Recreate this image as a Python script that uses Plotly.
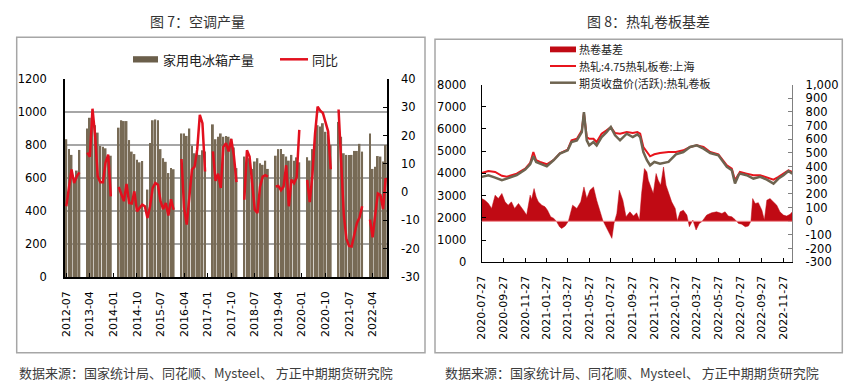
import plotly.graph_objects as go
import pandas as pd

W, H = 859, 392

# ---------------- Left chart data (monthly) ----------------
months = [p.strftime("%Y-%m") for p in pd.period_range("2012-07", "2022-09", freq="M")]

fridge_2012 = [835, 775, 740, 590, 645, 770]
fridge_2013 = [None, None, 900, 965, 940, 920, 875, 795, 790, 780, 735, 735]
fridge_2014 = [None, None, 905, 950, 945, 945, 830, 760, 745, 710, 695, 703]
fridge_2015 = [None, 530, 812, 950, 955, 950, 775, 720, 698, 630, 660, 653]
fridge_2016 = [None, None, 870, 870, 855, 900, 795, 750, 755, 740, 768, 760]
fridge_2017 = [None, None, 925, 835, 850, 870, 850, 855, 850, 838, 785, 660]
fridge_2018 = [None, None, 730, 770, 720, 655, 700, 720, 690, 680, 705, 655]
fridge_2019 = [None, None, 735, 775, 775, 745, 730, 705, 740, 705, 725, 695]
fridge_2020 = [None, None, 726, 706, 775, 850, 920, 912, 932, 880, 860, 800]
fridge_2021 = [None, None, 940, 850, 750, 740, 740, 740, 764, 764, 807, 760]
fridge_2022 = [None, None, 870, 655, 668, 733, 730, 700, 800]

yoy_2012 = [-5, 1, 8, 3.2, 5.6, 7]
yoy_2013 = [None, None, 14, 12.5, 29.5, 20, 5.5, 3.5, 3.5, 10.5, 13.3, -1.5]
yoy_2014 = [None, None, 1.8, -0.9, -3.2, 2.9, -3.8, -4, 0.3, -6.8, -5.6, -4.4]
yoy_2015 = [-5, -9.1, -5, 1.5, 3.2, 2.6, -3.2, -6, -3.8, -8.3, -2.5, -6.2]
yoy_2016 = [None, None, 11.7, -5.6, -11.5, -1.5, 8, 9, 15, 27.3, 24.4, 7.3]
yoy_2017 = [None, None, 14.4, 4, 6.5, 1.5, 16, 17.3, 14.4, 18.8, 13, 3.5]
yoy_2018 = [None, None, -2.7, 14.8, 12.6, 3.8, -6.2, -7.4, 1.8, 5.5, 6, 5.5]
yoy_2019 = [None, None, 2, 2.2, 0.7, 2, 9.5, -5, 4.4, 3.2, 5.3, 22]
yoy_2020 = [None, None, 4.3, -3.5, 6, 20.5, 30.2, 28.8, 28, 25, 21.5, 8.1]
yoy_2021 = [None, None, 29.2, 9, -8, -16.5, -19, -19.2, -14.5, -11, -9, -5]
yoy_2022 = [None, None, -9.7, -16, -8, -0.5, -1, -6, 5]

fridge = (fridge_2012 + fridge_2013 + fridge_2014 + fridge_2015 + fridge_2016 + fridge_2017
          + fridge_2018 + fridge_2019 + fridge_2020 + fridge_2021 + fridge_2022)
yoy = (yoy_2012 + yoy_2013 + yoy_2014 + yoy_2015 + yoy_2016 + yoy_2017
       + yoy_2018 + yoy_2019 + yoy_2020 + yoy_2021 + yoy_2022)

left_xticks = ["2012-07", "2013-04", "2014-01", "2014-10", "2015-07", "2016-04", "2017-01",
               "2017-10", "2018-07", "2019-04", "2020-01", "2020-10", "2021-07", "2022-04"]
left_y2_ticks = [40, 30, 20, 10, 0, -10, -20, -30]

# ---------------- Right chart data ----------------
line_dates = ["2020-07-27", "2020-08-15", "2020-09-03", "2020-09-22", "2020-10-06", "2020-11-03",
              "2020-11-27", "2020-12-11", "2020-12-20", "2020-12-28", "2021-01-08", "2021-01-27",
              "2021-02-15", "2021-03-05", "2021-03-27", "2021-04-07", "2021-04-22", "2021-05-06",
              "2021-05-12", "2021-05-20", "2021-05-27", "2021-06-08", "2021-06-17", "2021-07-01",
              "2021-07-15", "2021-07-27", "2021-08-08", "2021-08-22", "2021-09-10", "2021-09-27",
              "2021-10-10", "2021-10-18", "2021-10-27", "2021-11-06", "2021-11-15", "2021-11-27",
              "2021-12-13", "2022-01-06", "2022-01-27", "2022-02-17", "2022-03-08", "2022-03-27",
              "2022-04-15", "2022-05-04", "2022-05-27", "2022-06-20", "2022-07-04", "2022-07-13",
              "2022-07-23", "2022-07-27", "2022-08-15", "2022-09-03", "2022-09-22", "2022-10-11",
              "2022-10-30", "2022-11-13", "2022-11-27", "2022-12-11", "2022-12-22"]

spot = [4020, 4110, 4066, 3890, 3850, 3990, 4215, 4470, 4963, 4590, 4515, 4410,
        4600, 4900, 5068, 5487, 5560, 5935, 6712, 5636, 5560, 5560, 5412, 5786,
        5935, 6085, 5816, 5786, 5860, 5816, 5860, 5786, 5188, 4963, 4770, 4860,
        4918, 4963, 4963, 5038, 5188, 5262, 5188, 4963, 4860, 4365, 4215, 3692,
        3990, 4066, 3990, 3917, 3917, 3812, 3722, 3842, 3990, 4140, 4066]

futures = [3842, 3917, 3812, 3692, 3767, 3917, 4170, 4410, 4770, 4515, 4440, 4320,
           4590, 4888, 5038, 5412, 5487, 5860, 6757, 5487, 5262, 5412, 5262, 5636,
           5860, 6085, 5711, 5487, 5786, 5636, 5756, 5636, 4963, 4590, 4365, 4515,
           4440, 4515, 4860, 4963, 5188, 5262, 5113, 4918, 4815, 4290, 4140, 3543,
           3917, 3990, 3917, 3767, 3842, 3722, 3543, 3767, 3917, 4110, 3990]

basis_dates = ["2020-07-27", "2020-08-05", "2020-08-15", "2020-08-24", "2020-09-03", "2020-09-12",
               "2020-09-22", "2020-10-01", "2020-10-10", "2020-10-19", "2020-10-28", "2020-11-08",
               "2020-11-22", "2020-12-01", "2020-12-11", "2020-12-15", "2020-12-22", "2020-12-28",
               "2021-01-03", "2021-01-13", "2021-01-22", "2021-01-29", "2021-02-07", "2021-02-16",
               "2021-02-24", "2021-03-04", "2021-03-10", "2021-03-20", "2021-03-29", "2021-04-10",
               "2021-04-22", "2021-05-03", "2021-05-12", "2021-05-20", "2021-05-29", "2021-06-08",
               "2021-06-17", "2021-06-27", "2021-07-04", "2021-07-11", "2021-07-20", "2021-07-30",
               "2021-08-05", "2021-08-13", "2021-08-20", "2021-08-30", "2021-09-08", "2021-09-19",
               "2021-09-29", "2021-10-08", "2021-10-16", "2021-10-22", "2021-10-30", "2021-11-06",
               "2021-11-10", "2021-11-17", "2021-11-24", "2021-12-02", "2021-12-08", "2021-12-15",
               "2021-12-23", "2021-12-30", "2022-01-06", "2022-01-15", "2022-01-25", "2022-01-31",
               "2022-02-08", "2022-02-17", "2022-02-27", "2022-03-06", "2022-03-16", "2022-03-25",
               "2022-04-03", "2022-04-10", "2022-04-17", "2022-04-24", "2022-05-08", "2022-05-22",
               "2022-06-06", "2022-06-15", "2022-06-24", "2022-07-04", "2022-07-13", "2022-07-23",
               "2022-08-01", "2022-08-11", "2022-08-20", "2022-08-27", "2022-09-01", "2022-09-08",
               "2022-09-17", "2022-09-27", "2022-10-04", "2022-10-11", "2022-10-20", "2022-10-30",
               "2022-11-08", "2022-11-17", "2022-11-27", "2022-12-06", "2022-12-16", "2022-12-22"]

basis = [166, 154, 130, 94, 191, 166, 203, 142, 118, 142, 94, 130,
         81, 45, 191, 160, 239, 178, 142, 118, 106, 81, 33, 21,
         -4, -40, -52, -35, 0, 118, 94, 142, 251, 166, 227, 251,
         154, 57, 9, -28, -77, -125, -16, 57, 227, 154, 33, 69,
         38, 62, 9, 203, 385, 361, 300, 251, 203, 349, 300, 264,
         397, 264, 203, 142, 94, 4, 69, 81, 45, -40, 9, -64,
         -16, -4, 21, 45, 62, 69, 57, 69, 38, 33, 13, -16,
         -21, -40, -35, 0, 166, 130, 136, 81, 9, 154, 166, 142,
         118, 69, 45, 38, 52, 69]

right_xticks = ["2020-07-27", "2020-09-27", "2020-11-27", "2021-01-27", "2021-03-27", "2021-05-27",
                "2021-07-27", "2021-09-27", "2021-11-27", "2022-01-27", "2022-03-27", "2022-05-27",
                "2022-07-27", "2022-09-27", "2022-11-27"]
right_y4_ticks = list(range(-300, 1001, 100))


def px(x):
    return x / W


def py(y):
    return 1 - y / H


TICKFONT = dict(family="DejaVu Sans", size=11, color="#000000")
CJK = "Noto Sans CJK SC"

fig = go.Figure()

# Left chart traces
fig.add_trace(go.Bar(x=months, y=fridge, xaxis="x", yaxis="y",
                     marker=dict(color="#776a55", line=dict(width=0)), showlegend=False))
fig.add_trace(go.Scatter(x=months, y=yoy, xaxis="x", yaxis="y2", mode="lines",
                         line=dict(color="#e2101e", width=2.5), connectgaps=False, showlegend=False))

# Right chart traces
fig.add_trace(go.Scatter(x=basis_dates, y=basis, xaxis="x2", yaxis="y4", mode="lines",
                         fill="tozeroy", fillcolor="#c00a14", line=dict(color="#c00a14", width=0.5),
                         showlegend=False))
fig.add_trace(go.Scatter(x=line_dates, y=spot, xaxis="x2", yaxis="y3", mode="lines",
                         line=dict(color="#e8141c", width=2), showlegend=False))
fig.add_trace(go.Scatter(x=line_dates, y=futures, xaxis="x2", yaxis="y3", mode="lines",
                         line=dict(color="#6e6450", width=2.5), showlegend=False))

fig.update_layout(
    template="none",
    width=W, height=H, autosize=False,
    margin=dict(l=0, r=0, t=0, b=0, pad=0),
    paper_bgcolor="white", plot_bgcolor="white",
    bargap=0.3,
    hovermode=False,
    xaxis=dict(domain=[px(65), px(387)], anchor="y", type="category", range=[-0.5, 122.5],
               tickmode="array", tickvals=left_xticks, ticktext=left_xticks, tickangle=-90,
               ticks="inside", ticklen=4, tickcolor="black", showline=True, linecolor="black",
               linewidth=1.5, showgrid=False, tickfont=TICKFONT, ticklabelstandoff=8, automargin=False),
    yaxis=dict(domain=[py(277), py(79)], anchor="x", range=[0, 1200], dtick=200,
               showgrid=True, gridcolor="#a6a6a6", gridwidth=1.5, zeroline=False,
               showline=True, linecolor="black", linewidth=1.5, ticks="",
               tickfont=dict(family="DejaVu Sans", size=11.5, color="#000000"), ticklabelstandoff=14,
               automargin=False),
    yaxis2=dict(overlaying="y", side="right", anchor="x", range=[-30, 40],
                tickmode="array", tickvals=left_y2_ticks, ticktext=[str(v) for v in left_y2_ticks],
                showgrid=False, zeroline=False, showline=True, linecolor="black", linewidth=1.5,
                ticks="inside", ticklen=4, tickcolor="black",
                tickfont=dict(family="DejaVu Sans", size=11.5, color="#000000"), ticklabelstandoff=10,
                automargin=False),
    xaxis2=dict(domain=[px(481.7), px(792.3)], anchor="y3", type="date",
                range=["2020-07-27", "2022-12-22"],
                tickmode="array", tickvals=right_xticks, ticktext=right_xticks, tickangle=-90,
                ticks="inside", ticklen=4, tickcolor="black", showline=True, linecolor="black",
                linewidth=1, showgrid=False, tickfont=TICKFONT, ticklabelstandoff=8, automargin=False),
    yaxis3=dict(domain=[py(262.3), py(84.5)], anchor="x2", range=[0, 8000], dtick=1000,
                showgrid=False, zeroline=False, showline=True, linecolor="black", linewidth=1,
                ticks="inside", ticklen=4, tickcolor="black",
                tickfont=dict(family="DejaVu Sans", size=11.5, color="#000000"), ticklabelstandoff=12,
                automargin=False),
    yaxis4=dict(overlaying="y3", side="right", anchor="x2", range=[-300, 1000],
                tickmode="array", tickvals=right_y4_ticks,
                ticktext=[f"{v:,}" for v in right_y4_ticks],
                showgrid=False, zeroline=False, showline=True, linecolor="#808080", linewidth=1,
                ticks="inside", ticklen=4, tickcolor="#808080",
                tickfont=dict(family="DejaVu Sans", size=11.5, color="#000000"), ticklabelstandoff=10,
                automargin=False),
)

shapes = [
    # panel frames
    dict(type="rect", xref="paper", yref="paper", x0=px(16.7), x1=px(425), y0=py(352.7), y1=py(37.3),
         line=dict(color="#a6a6a6", width=1.5), fillcolor="rgba(0,0,0,0)", layer="below"),
    dict(type="rect", xref="paper", yref="paper", x0=px(435), x1=px(842.3), y0=py(352.7), y1=py(39.3),
         line=dict(color="#a6a6a6", width=1.5), fillcolor="rgba(0,0,0,0)", layer="below"),
    # basis zero line
    dict(type="line", xref="x2 domain", yref="y4", x0=0, x1=1, y0=0, y1=0,
         line=dict(color="#f08a90", width=1)),
    # left legend symbols
    dict(type="rect", xref="paper", yref="paper", x0=px(133), x1=px(158), y0=py(62.5), y1=py(56.2),
         line=dict(width=0), fillcolor="#6b5f4b"),
    dict(type="line", xref="paper", yref="paper", x0=px(280), x1=px(308), y0=py(59.3), y1=py(59.3),
         line=dict(color="#e2101e", width=2.5)),
    # right legend symbols
    dict(type="rect", xref="paper", yref="paper", x0=px(550), x1=px(576), y0=py(52.3), y1=py(46.5),
         line=dict(width=0), fillcolor="#c00a14"),
    dict(type="line", xref="paper", yref="paper", x0=px(550), x1=px(576), y0=py(66), y1=py(66),
         line=dict(color="#e8141c", width=2)),
    dict(type="line", xref="paper", yref="paper", x0=px(550), x1=px(576), y0=py(82.7), y1=py(82.7),
         line=dict(color="#6e6450", width=2.5)),
]
fig.update_layout(shapes=shapes)


def ann(text, x, y, size, xanchor="left", color="#222222", family=CJK):
    return dict(text=text, xref="paper", yref="paper", x=px(x), y=py(y), xanchor=xanchor,
                yanchor="middle", showarrow=False, font=dict(family=family, size=size, color=color))


annotations = [
    ann("图 7：空调产量", 197, 21.5, 14, xanchor="center", color="#333333"),
    ann("图 8：热轧卷板基差", 648, 21.5, 14, xanchor="center", color="#333333"),
    ann("家用电冰箱产量", 161, 59.3, 13),
    ann("同比", 310, 59.3, 13),
    ann("热卷基差", 577, 49.3, 11),
    ann("热轧:4.75热轧板卷:上海", 577, 66, 11),
    ann("期货收盘价(活跃):热轧卷板", 577, 82.7, 11),
    ann("数据来源：国家统计局、同花顺、Mysteel、 方正中期期货研究院", 17, 372.5, 13, color="#3c3c3c"),
    ann("数据来源：国家统计局、同花顺、Mysteel、 方正中期期货研究院", 443, 372, 13, color="#3c3c3c"),
]
fig.update_layout(annotations=annotations)

fig.write_html("out.html", config={"displayModeBar": False},
               post_script="document.body.style.margin='0';document.body.style.overflow='hidden';")
